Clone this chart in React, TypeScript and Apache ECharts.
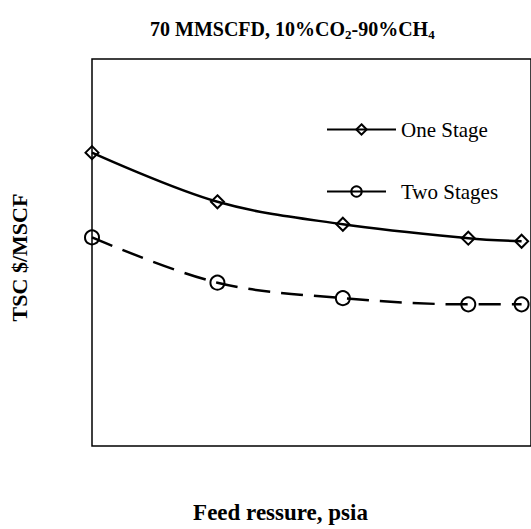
import React, { useEffect, useRef } from "react";
import * as echarts from "echarts";

const feedPressure = [400, 600, 800, 1000, 1085];
const oneStage = [75.8, 63.1, 57.3, 53.7, 52.9];
const twoStages = [53.9, 42.2, 38.2, 36.6, 36.6];
const seriesNames = ["One Stage", "Two Stages"];

const FONT = "'Liberation Serif', 'Times New Roman', serif";

export default function App() {
  const ref = useRef<HTMLDivElement>(null);
  useEffect(() => {
    if (!ref.current) return;
    const chart = echarts.init(ref.current, undefined, { renderer: "svg" });
    const pts = (ys: number[]) => feedPressure.map((x, i) => [x, ys[i]]);
    chart.setOption({
      animation: false,
      backgroundColor: "#fff",
      title: {
        text: "70 MMSCFD, 10%CO{sub|2}-90%CH{sub|4}",
        left: 145,
        top: 13,
        textStyle: {
          fontFamily: FONT,
          fontWeight: "bold",
          fontSize: 20,
          color: "#000",
          lineHeight: 22,
          rich: {
            sub: {
              fontFamily: FONT,
              fontWeight: "bold",
              fontSize: 13,
              color: "#000",
              lineHeight: 14,
              padding: [10, 0, 0, 0],
            },
          },
        },
      },
      legend: [
        {
          data: [seriesNames[0]],
          left: 321,
          top: 114,
          itemWidth: 69,
          itemHeight: 13,
          textStyle: { fontFamily: FONT, fontSize: 21, color: "#000" },
        },
        {
          data: [seriesNames[1]],
          left: 321,
          top: 176,
          itemWidth: 59,
          itemHeight: 13,
          lineStyle: { type: "solid" },
          textStyle: { fontFamily: FONT, fontSize: 21, color: "#000", padding: [0, 0, 0, 10] },
        },
      ],
      grid: {
        left: 90,
        top: 59,
        right: -2,
        bottom: 77,
        show: true,
        borderColor: "#000",
        borderWidth: 1.5,
        backgroundColor: "transparent",
      },
      xAxis: {
        type: "value",
        min: 400,
        max: 1100,
        name: "Feed ressure, psia",
        nameLocation: "middle",
        nameGap: 55,
        nameTextStyle: {
          fontFamily: FONT,
          fontWeight: "bold",
          fontSize: 23,
          color: "#000",
          verticalAlign: "top",
          padding: [0, 62, 0, 0],
        },
        axisLine: { show: false },
        axisTick: { show: false },
        axisLabel: { show: false },
        splitLine: { show: false },
      },
      yAxis: {
        type: "value",
        min: 0,
        max: 100,
        name: "TSC $/MSCF",
        nameLocation: "middle",
        nameGap: 62,
        nameTextStyle: {
          fontFamily: FONT,
          fontWeight: "bold",
          fontSize: 22,
          color: "#000",
          padding: [0, 10, 0, 0],
        },
        axisLine: { show: false },
        axisTick: { show: false },
        axisLabel: { show: false },
        splitLine: { show: false },
      },
      series: [
        {
          name: seriesNames[0],
          type: "line",
          data: pts(oneStage),
          smooth: 0.35,
          clip: false,
          symbol: "diamond",
          symbolSize: 13,
          lineStyle: { color: "#000", width: 2.5, type: "solid" },
          itemStyle: { color: "rgba(255,255,255,0)", borderColor: "#000", borderWidth: 2 },
        },
        {
          name: seriesNames[1],
          type: "line",
          data: pts(twoStages),
          smooth: 0.35,
          clip: false,
          symbol: "circle",
          symbolSize: 14,
          lineStyle: { color: "#000", width: 2.5, type: [22, 11] },
          itemStyle: { color: "rgba(255,255,255,0)", borderColor: "#000", borderWidth: 2 },
        },
      ],
    });
    return () => chart.dispose();
  }, []);
  return (
    <div
      ref={ref}
      style={{ position: "absolute", left: 0, top: 0, width: 531, height: 529 }}
    />
  );
}
